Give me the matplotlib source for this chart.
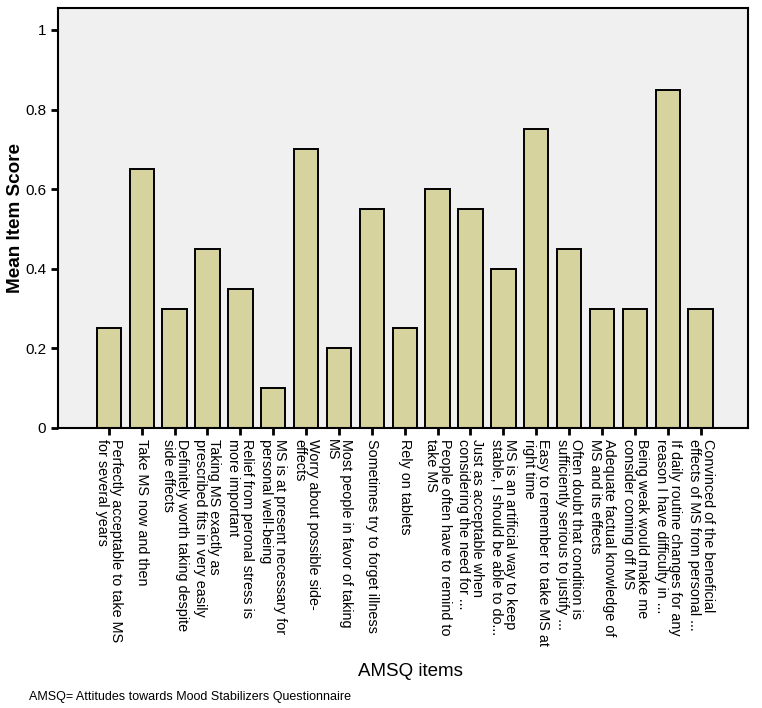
import matplotlib
matplotlib.use('Agg')
import matplotlib.pyplot as plt

plt.rcParams['font.family'] = ['Liberation Sans', 'DejaVu Sans']

items = [
    'Perfectly acceptable to take MS\nfor several years',
    'Take MS now and then',
    'Definitely worth taking despite\nside effects',
    'Taking MS exactly as\nprescribed fits in very easily',
    'Relief from peronal stress is\nmore important',
    'MS is at present necessary for\npersonal well-being',
    'Worry about possible side-\neffects',
    'Most people in favor of taking\nMS',
    'Sometimes try to forget illness',
    'Rely on tablets',
    'People often have to remind to\ntake MS',
    'Just as acceptable when\nconsidering the need for ...',
    'MS is an artificial way to keep\nstable, I should be able to do...',
    'Easy to remember to take MS at\nright time',
    'Often doubt that condition is\nsufficiently serious to justify ...',
    'Adequate factual knowledge of\nMS and its effects',
    'Being weak would make me\nconsider coming off MS',
    'If daily routine changes for any\nreason I have difficulty in ...',
    'Convinced of the beneficial\neffects of MS from personal ...',
]
scores = [0.25, 0.65, 0.30, 0.45, 0.35, 0.10, 0.70, 0.20, 0.55, 0.25,
          0.60, 0.55, 0.40, 0.75, 0.45, 0.30, 0.30, 0.85, 0.30]
yticks = [0, 0.2, 0.4, 0.6, 0.8, 1]
ytick_labels = ['0', '0.2', '0.4', '0.6', '0.8', '1']

fig = plt.figure(figsize=(7.62, 7.08), dpi=100)
ax = fig.add_axes([0.076, 0.3955, 0.906, 0.5932])
ax.set_facecolor('#f0f0f0')
x = range(len(items))
ax.bar(x, scores, width=0.74, color='#d7d39e', edgecolor='black', linewidth=1.4)
ax.set_xlim(-1.55, len(items) - 1 + 1.45)
ax.set_ylim(0, 1.055)
ax.set_yticks(yticks)
ax.set_yticklabels(ytick_labels, fontsize=11)
ax.set_xticks(list(x))
ax.set_xticklabels(items, rotation=270, fontsize=10.4, ha='center', va='top',
                   multialignment='left', linespacing=1.0)
ax.tick_params(axis='both', direction='out', length=5, width=2, color='black')
ax.tick_params(axis='x', pad=3)
for s in ax.spines.values():
    s.set_linewidth(1.5)
ax.set_ylabel('Mean Item Score', fontsize=13.6, fontweight='bold', labelpad=0.5)
fig.text(0.538, 0.052, 'AMSQ items', fontsize=13.5, ha='center', va='center')
fig.text(0.038, 0.015, 'AMSQ= Attitudes towards Mood Stabilizers Questionnaire',
         fontsize=9, ha='left', va='center')
fig.savefig('out.png', dpi=100)
